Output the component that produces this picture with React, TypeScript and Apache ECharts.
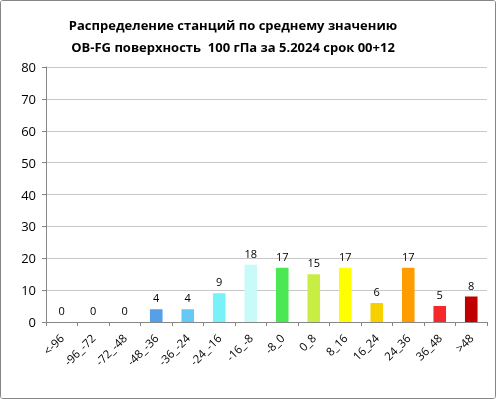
import React, { useEffect, useRef } from "react";
import * as echarts from "echarts";

const categories = ["<-96", "-96_-72", "-72_-48", "-48_-36", "-36_-24", "-24_-16", "-16_-8", "-8_0", "0_8", "8_16", "16_24", "24_36", "36_48", ">48"];
const counts = [0, 0, 0, 4, 4, 9, 18, 17, 15, 17, 6, 17, 5, 8];
const barColors = ["#4f81bd", "#4f81bd", "#4f81bd", "#55a0e6", "#66c8f4", "#78f2f8", "#c8fafa", "#4ae852", "#c8ee44", "#ffff00", "#f7d000", "#ff9c00", "#f5282c", "#c00000"];
const titleLines = ["Распределение станций по среднему значению", "OB-FG поверхность  100 гПа за 5.2024 срок 00+12"];

export default function App() {
  const ref = useRef<HTMLDivElement>(null);
  useEffect(() => {
    document.body.style.margin = "0";
    const chart = echarts.init(ref.current!, null, { renderer: "svg" });
    chart.setOption({
      animation: false,
      backgroundColor: "#ffffff",
      textStyle: { fontFamily: "Open Sans" },
      title: {
        text: titleLines.join("\n"),
        left: 227,
        top: 8,
        textAlign: "center",
        textStyle: { fontFamily: "Open Sans", fontWeight: "bold", fontSize: 13, color: "#000", lineHeight: 22 },
      },
      grid: { left: 45, right: 8, top: 66, bottom: 76 },
      xAxis: {
        type: "category",
        data: categories,
        axisLine: { lineStyle: { color: "#868686" } },
        axisTick: { show: true, length: 4, lineStyle: { color: "#868686" } },
        axisLabel: { rotate: 45, fontSize: 11.5, color: "#000", margin: 14, interval: 0 },
      },
      yAxis: {
        type: "value",
        min: 0,
        max: 80,
        interval: 10,
        axisLine: { show: true, lineStyle: { color: "#868686" } },
        axisTick: { show: true, length: 4, lineStyle: { color: "#868686" } },
        axisLabel: { fontSize: 13, color: "#000", margin: 10 },
        splitLine: { lineStyle: { color: "#c8c8c8", width: 1 } },
      },
      series: [
        {
          type: "bar",
          data: counts.map((v, i) => ({ value: v, itemStyle: { color: barColors[i] } })),
          barWidth: "40%",
          label: { show: true, position: "top", fontSize: 11, color: "#000", distance: 6 },
        },
      ],
    });
    return () => chart.dispose();
  }, []);
  return (
    <div style={{ position: "fixed", left: 0, top: 0, width: 496, height: 399, boxSizing: "border-box", border: "1px solid #868686", borderRadius: 3, overflow: "hidden" }}>
      <div ref={ref} style={{ width: 494, height: 397 }} />
    </div>
  );
}
